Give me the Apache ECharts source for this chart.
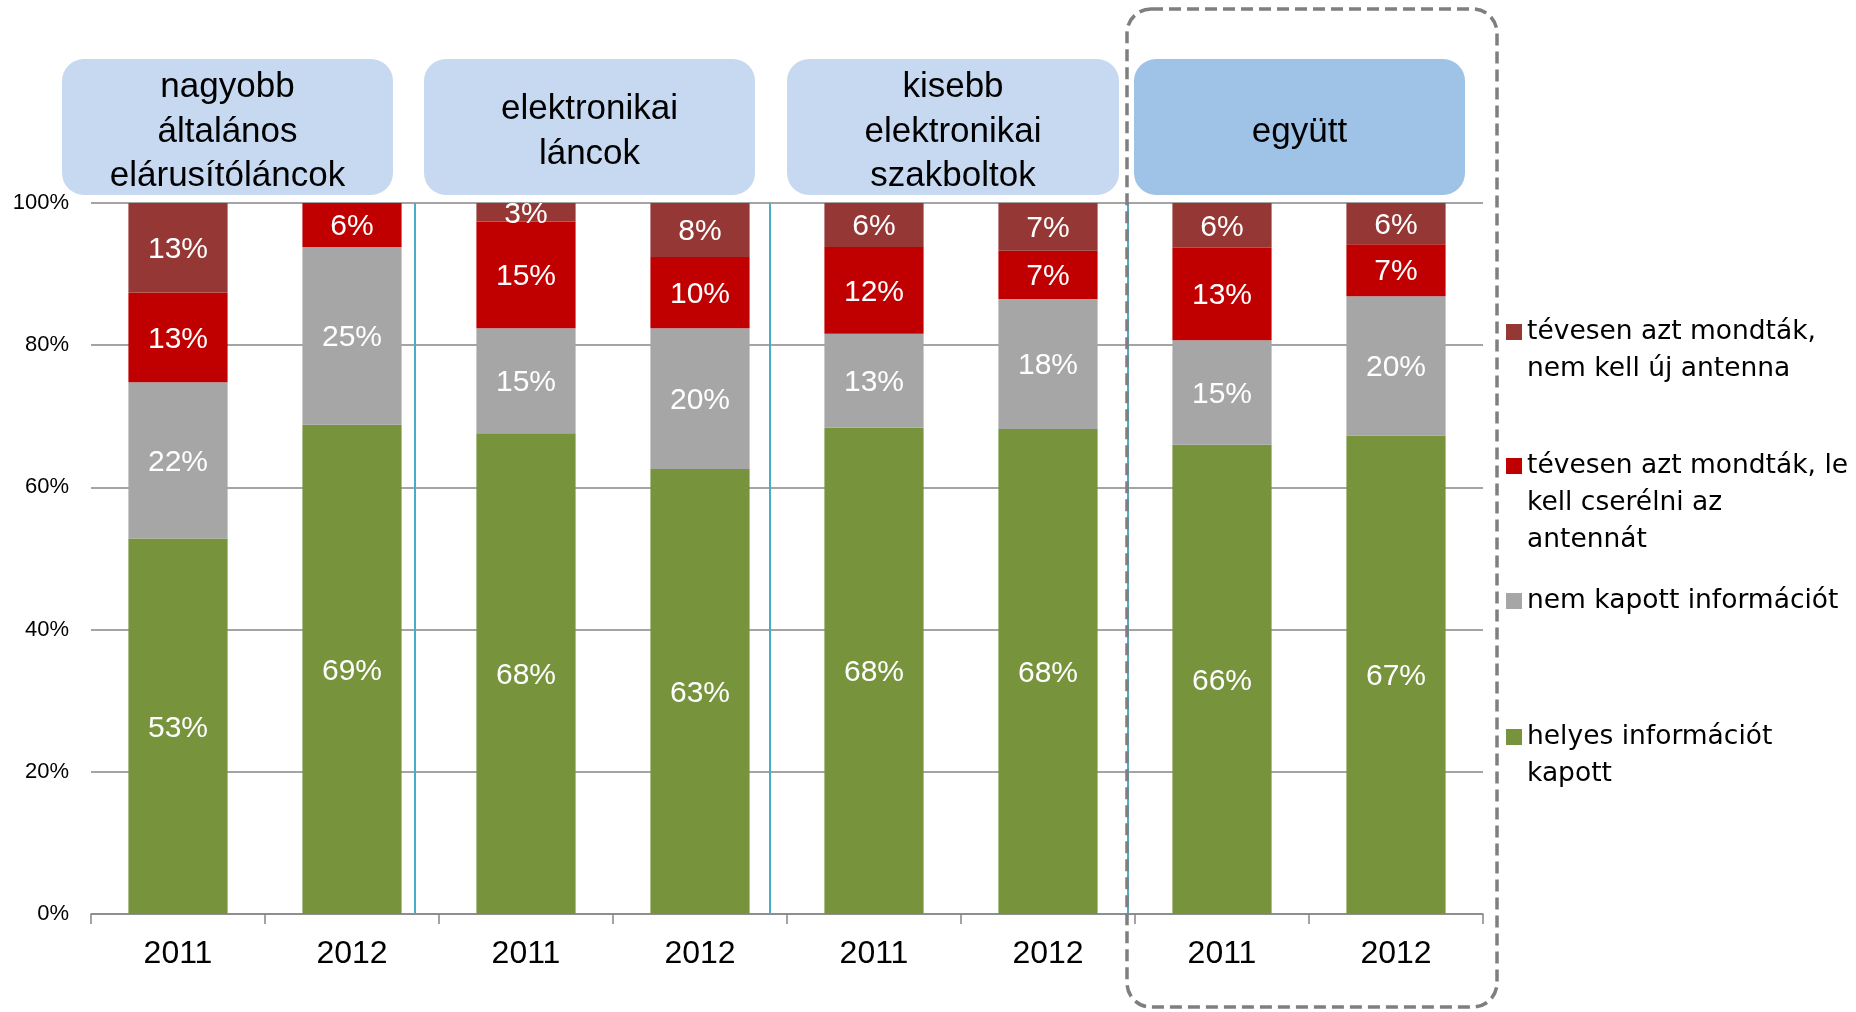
<!DOCTYPE html>
<html>
<head>
<meta charset="utf-8">
<script src="https://cdn.jsdelivr.net/npm/echarts@6/dist/echarts.min.js"></script>
<style>
html,body{margin:0;padding:0;background:#fff}
#chart{width:1856px;height:1012px}
</style>
</head>
<body>
<div id="chart"></div>
<script>
// categories (two years per shop type)
var years = ['2011', '2012', '2011', '2012', '2011', '2012', '2011', '2012'];
var groupTitles = ['nagyobb\náltalános\nelárusítóláncok', 'elektronikai\nláncok', 'kisebb\nelektronikai\nszakboltok', 'együtt'];

// shares in % (bottom -> top)
var helyes    = [52.8, 68.8, 67.6, 62.6, 68.4, 68.2, 66.0, 67.3];
var nemKapott = [22.0, 25.0, 14.8, 19.8, 13.2, 18.3, 14.7, 19.6];
var csere     = [12.6,  6.2, 15.0, 10.0, 12.2,  6.8, 13.0,  7.3];
var nemKell   = [12.6,  0.0,  2.6,  7.6,  6.2,  6.7,  6.3,  5.8];

var seriesNames = [
    'helyes információt kapott',
    'nem kapott információt',
    'tévesen azt mondták, le kell cserélni az antennát',
    'tévesen azt mondták, nem kell új antenna'
];
var legendLines = {};
legendLines[seriesNames[0]] = ['helyes információt', 'kapott'];
legendLines[seriesNames[1]] = ['nem kapott információt'];
legendLines[seriesNames[2]] = ['tévesen azt mondták, le', 'kell cserélni az', 'antennát'];
legendLines[seriesNames[3]] = ['tévesen azt mondták,', 'nem kell új antenna'];

var colors = ['#77933C', '#A6A6A6', '#C00000', '#953735'];
var values = [helyes, nemKapott, csere, nemKell];

var chart = echarts.init(document.getElementById('chart'));

function makeSerie(i) {
    return {
        name: seriesNames[i],
        type: 'bar',
        stack: 'total',
        barWidth: '57%',
        data: values[i],
        itemStyle: { color: colors[i] },
        label: {
            show: true,
            position: 'inside',
            offset: [0, 2],
            color: '#fff',
            fontSize: 30,
            fontFamily: 'Liberation Sans',
            formatter: function (p) {
                return p.value > 0 ? Math.round(p.value) + '%' : '';
            }
        }
    };
}

// one legend per item so the uneven spacing can be kept.
// blank lines are put in front so the marker sits next to the first line
function makeLegend(name, centerY) {
    var lh = 37;
    var lines = legendLines[name];
    var n = lines.length * 2 - 1;
    return {
        data: [name],
        left: 1506,
        top: centerY - n * lh / 2,
        padding: 0,
        itemWidth: 16,
        itemHeight: 16,
        icon: 'rect',
        selectedMode: false,
        formatter: function (nm) {
            var l = legendLines[nm];
            var pre = [];
            for (var k = 1; k < l.length; k++) pre.push(' ');
            return pre.concat(l).join('\n');
        },
        textStyle: {
            fontFamily: 'DejaVu Sans',
            fontSize: 26.5,
            color: '#000',
            lineHeight: lh
        }
    };
}

// header boxes above the groups
var boxes = [
    { x: 62, w: 331, fill: '#C6D9F1' },
    { x: 424, w: 331, fill: '#C6D9F1' },
    { x: 787, w: 332, fill: '#C6D9F1' },
    { x: 1134, w: 331, fill: '#9FC2E7' }
];
var graphics = [];
boxes.forEach(function (b, i) {
    graphics.push({
        type: 'rect',
        shape: { x: b.x, y: 59, width: b.w, height: 136, r: 22 },
        style: { fill: b.fill },
        z: 5
    });
    graphics.push({
        type: 'text',
        x: b.x + b.w / 2,
        y: 132,
        style: {
            text: groupTitles[i],
            font: '35px "Liberation Sans"',
            fill: '#000',
            lineHeight: 44.5,
            align: 'center',
            verticalAlign: 'middle',
            textAlign: 'center',
            textVerticalAlign: 'middle'
        },
        z: 6
    });
});
// blue separators between groups
[415, 770, 1128].forEach(function (x) {
    graphics.push({
        type: 'line',
        shape: { x1: x, y1: 203, x2: x, y2: 914 },
        style: { stroke: '#4BACC6', lineWidth: 2 },
        z: 5
    });
});
// dashed frame round "együtt"
graphics.push({
    type: 'rect',
    shape: { x: 1127, y: 9, width: 370, height: 998, r: 24 },
    style: { fill: null, stroke: '#7F7F7F', lineWidth: 3.5, lineDash: [12, 6] },
    z: 20
});

var option = {
    animation: false,
    grid: { left: 91, right: 373, top: 203, bottom: 98 },
    legend: [
        makeLegend(seriesNames[3], 332),
        makeLegend(seriesNames[2], 466),
        makeLegend(seriesNames[1], 601),
        makeLegend(seriesNames[0], 737)
    ],
    xAxis: {
        type: 'category',
        data: years,
        axisLine: { lineStyle: { color: '#868686', width: 1.5 } },
        axisTick: { show: true, length: 10, lineStyle: { color: '#868686', width: 1.5 } },
        axisLabel: { color: '#000', fontSize: 32, fontFamily: 'Liberation Sans', margin: 24 }
    },
    yAxis: {
        type: 'value',
        min: 0,
        max: 100,
        interval: 20,
        axisLine: { show: false },
        axisTick: { show: false },
        splitLine: { lineStyle: { color: '#868686', width: 1.5 } },
        axisLabel: {
            color: '#000',
            fontSize: 22,
            fontFamily: 'Liberation Sans',
            margin: 22,
            formatter: '{value}%'
        }
    },
    series: [makeSerie(0), makeSerie(1), makeSerie(2), makeSerie(3)],
    graphic: graphics
};
chart.setOption(option);
</script>
</body>
</html>
